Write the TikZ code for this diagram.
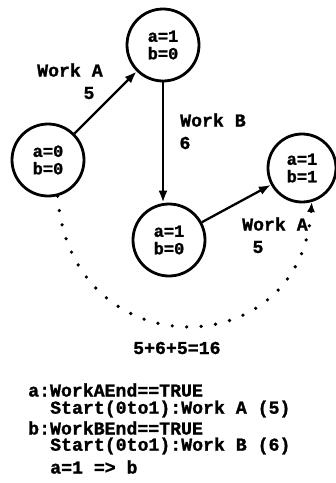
\documentclass[tikz,border=0pt]{standalone}
\usepackage{fontspec}
\setmonofont{Liberation Mono}[BoldFeatures={FakeBold=1.2}]
\usetikzlibrary{arrows.meta}
\tikzset{
  state/.style={circle,draw,line width=2.8pt,minimum size=72pt,inner sep=0pt,align=center,font=\ttfamily\bfseries\fontsize{17}{17.5}\selectfont},
  lbl/.style={inner sep=0pt,anchor=west,font=\ttfamily\bfseries\fontsize{18.2}{18}\selectfont},
  num/.style={inner sep=0pt,font=\ttfamily\bfseries\fontsize{18.2}{18}\selectfont},
  trans/.style={line width=2.3pt,-{Latex[length=12pt,width=9pt]}},
  dotarc/.style={line width=3.6pt,line cap=round,dash pattern=on 0pt off 14.5pt,-{Latex[length=10pt,width=8pt]}}
}
\begin{document}
\begin{tikzpicture}[x=1pt,y=-1pt]
\useasboundingbox (0,0) rectangle (336,483);
\node[state] (s00) at (48,160) {a=0\\b=0};
\node[state] (s10t) at (163,45) {a=1\\b=0};
\node[state] (s10b) at (169,240) {a=1\\b=0};
\node[state,minimum size=68pt] (s11) at (302,168) {a=1\\b=1};
\draw[trans] (s00) -- (s10t);
\draw[trans] (s10t) -- (s10t |- s10b.north);
\draw[trans] (s10b) -- (s11);
\draw[dotarc] (s00.-75) .. controls (70,368) and (300,368) .. (s11.-74);
\node[lbl] (wa1) at (37,70) {Work A};
\node[num] (n5a) at (89,93) {5};
\node[lbl] (wb) at (180,120) {Work B};
\node[num] (n6) at (185,143) {6};
\node[lbl] (wa2) at (242,224) {Work A};
\node[num] (n5b) at (258,247) {5};
\node[lbl] (sum) at (133,348) {5+6+5=16};
\node[lbl] (c1) at (28,390) {a:WorkAEnd==TRUE};
\node[lbl] (c2) at (50,409) {Start(0to1):Work A (5)};
\node[lbl] (c3) at (28,428) {b:WorkBEnd==TRUE};
\node[lbl] (c4) at (50,446) {Start(0to1):Work B (6)};
\node[lbl] (c5) at (50,467) {a=1 => b};
\end{tikzpicture}
\end{document}
